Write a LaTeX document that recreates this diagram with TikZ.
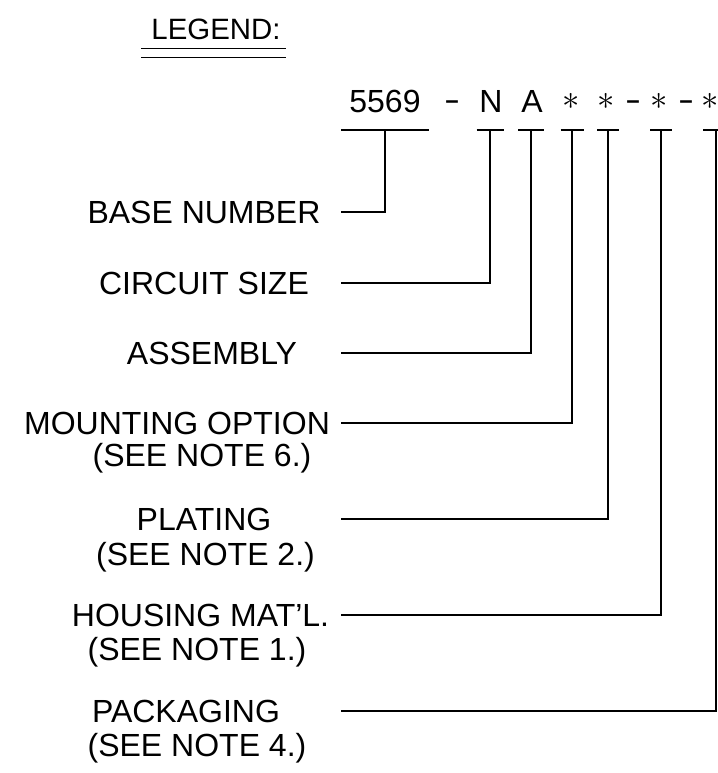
\documentclass[tikz,border=0pt]{standalone}
\usepackage{fontspec}
\setmainfont{Liberation Sans}
\usepackage{graphicx}
\usetikzlibrary{calc}

\begin{document}
\begin{tikzpicture}[
  x=0.5pt,y=-0.5pt,
  wire/.style={line width=0.6pt},
  txt/.style={font=\fontsize{16}{19}\selectfont,inner sep=0pt,text height=11.46pt,text depth=0pt},
  head/.style={font=\fontsize{14.7}{17}\selectfont,inner sep=0pt,text height=10.5pt,text depth=0pt}
]
  \useasboundingbox (0,0) rectangle (718,773);

  \node[head] (legend) at (216,28.5) {LEGEND:};
  \draw[wire,line width=0.8pt] ($(legend.south west)+(-10,9)$) -- ($(legend.south east)+(5,9)$);
  \draw[wire,line width=0.8pt] ($(legend.south west)+(-10,18)$) -- ($(legend.south east)+(5,18)$);

  \node[txt] (num) at (385,101.5) {5569};
  \node[txt] (dasha) at (452,101.5) {\raisebox{1.3pt}{\scalebox{1.5}[1]{-}}};
  \node[txt] (ckt) at (491,101.5) {N};
  \node[txt] (asm) at (532,101.5) {A};
  \node[txt] (mnt) at (571,101.5) {\raisebox{1.7pt}{$\ast$}};
  \node[txt] (plt) at (606,101.5) {\raisebox{1.7pt}{$\ast$}};
  \node[txt] (dashb) at (633,101.5) {\raisebox{1.3pt}{\scalebox{1.5}[1]{-}}};
  \node[txt] (mat) at (659,101.5) {\raisebox{1.7pt}{$\ast$}};
  \node[txt] (dashc) at (686,101.5) {\raisebox{1.3pt}{\scalebox{1.5}[1]{-}}};
  \node[txt] (pkg) at (710,101.5) {\raisebox{1.7pt}{$\ast$}};

  \foreach \b/\x/\w in {b1/385/44, b2/490/13.5, b3/531/13, b4/572/11.5, b5/608/11, b6/661/11, b7/716/13}{
    \coordinate (\b) at (\x,130);
    \draw[wire] (\x-\w,130) -- (\x+\w,130);
  }

  \node[txt] (base) at (204,212) {BASE NUMBER};
  \node[txt] (size) at (204,283) {CIRCUIT SIZE};
  \node[txt] (assy) at (212,353) {ASSEMBLY};
  \node[txt] (mount) at (177,423) {MOUNTING OPTION};
  \node[txt] (mountnote) at (202,455) {(SEE NOTE 6.)};
  \node[txt] (plate) at (204,519) {PLATING};
  \node[txt] (platenote) at (205.5,554) {(SEE NOTE 2.)};
  \node[txt] (house) at (200.5,615) {HOUSING MAT'L.};
  \node[txt] (housenote) at (197,649.5) {(SEE NOTE 1.)};
  \node[txt] (pack) at (186,711) {PACKAGING};
  \node[txt] (packnote) at (197,745) {(SEE NOTE 4.)};

  \coordinate (lstart) at (341,0);
  \foreach \l/\b in {base/b1, size/b2, assy/b3, mount/b4, plate/b5, house/b6, pack/b7}
    \draw[wire] (\l -| lstart) -| (\b);
\end{tikzpicture}
\end{document}
